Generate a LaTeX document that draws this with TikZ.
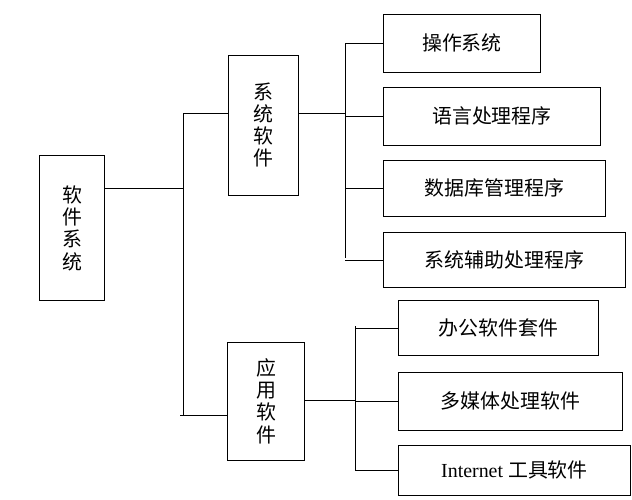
\documentclass[tikz,border=0pt]{standalone}
\usepackage{fontspec}
\newfontfamily\cjk{Noto Sans CJK SC}
\usetikzlibrary{positioning}
\tikzset{box/.style={draw, thick, inner sep=0pt, font=\cjk\fontsize{17}{19}\selectfont, align=center},
  line/.style={thick}}
\begin{document}
\begin{tikzpicture}[x=0.03cm, y=-0.03cm]
\useasboundingbox (0,0) rectangle (632,500);
% boxes
\node[box, minimum width=65*0.03cm, minimum height=145*0.03cm] (root) at (72,228) {软\\件\\系\\统};
\node[box, minimum width=70*0.03cm, minimum height=140*0.03cm] (sys) at (263,125) {系\\统\\软\\件};
\node[box, minimum width=77*0.03cm, minimum height=118*0.03cm] (app) at (266,401) {应\\用\\软\\件};

\node[box, minimum width=157*0.03cm, minimum height=58*0.03cm, anchor=west] (os) at (383,43) {操作系统};
\node[box, minimum width=217*0.03cm, minimum height=58*0.03cm, anchor=west] (lang) at (383,116) {语言处理程序};
\node[box, minimum width=222*0.03cm, minimum height=56*0.03cm, anchor=west] (db) at (383,188) {数据库管理程序};
\node[box, minimum width=242*0.03cm, minimum height=55*0.03cm, anchor=west] (aux) at (383,260) {系统辅助处理程序};

\node[box, minimum width=200*0.03cm, minimum height=55*0.03cm, anchor=west] (office) at (398,328) {办公软件套件};
\node[box, minimum width=224*0.03cm, minimum height=58*0.03cm, anchor=west] (media) at (398,401) {多媒体处理软件};
\node[box, minimum width=232*0.03cm, minimum height=50*0.03cm, anchor=west] (net) at (398,470) {\fontspec{Liberation Serif}Internet \cjk 工具软件};

% junctions
\coordinate (j0) at (183,188);
\coordinate (j1) at (345,113);
\coordinate (j2) at (355,400);

% connectors
\draw[line] (root.east |- j0) -- (j0);
\draw[line] (183,113) -- (183,415) -- (180,415);
\draw[line] (183,113) -- (sys.west |- 0,113);
\draw[line] (183,415) -- (app.west |- 0,415);

\draw[line] (sys.east |- j1) -- (j1);
\draw[line] (345,43) -- (345,258);
\foreach \n in {os,lang,db,aux}
  \draw[line] (345,0 |- \n.west) -- (\n.west);

\draw[line] (app.east |- j2) -- (j2);
\draw[line] (355,326) -- (355,470);
\foreach \n in {office,media,net}
  \draw[line] (355,0 |- \n.west) -- (\n.west);
\end{tikzpicture}
\end{document}
